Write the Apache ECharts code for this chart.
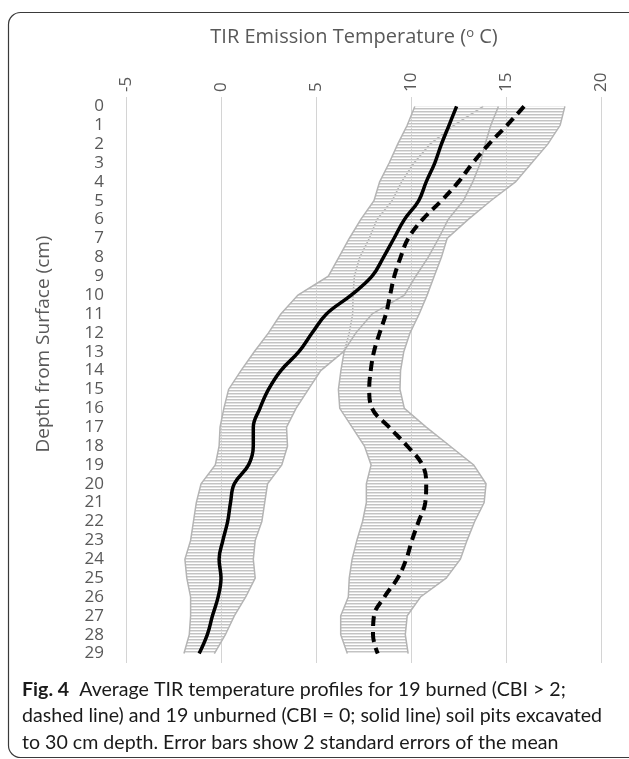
<!DOCTYPE html>
<html lang="en">
<head>
    <meta charset="UTF-8">
    <title>TIR temperature profiles</title>
    <style>
        html, body { margin: 0; padding: 0; background: #fff; }
        #chart { width: 629px; height: 759px; }
    </style>
</head>
<body>
<div id="chart"></div>
<script src="https://cdn.jsdelivr.net/npm/echarts@6/dist/echarts.min.js"></script>
<script>
    // depth categories (cm)
    var depths = ['0','1','2','3','4','5','6','7','8','9','10','11','12','13','14','15','16','17','18','19','20','21','22','23','24','25','26','27','28','29'];
    var tempTicks = [-5, 0, 5, 10, 15, 20];

    // unburned pits (solid line) : mean and 2 SE
    var unburnedMean = [12.4, 12.0, 11.6, 11.25, 10.8, 10.4, 9.65, 9.1, 8.55, 7.95, 6.85, 5.55, 4.8, 4.1, 3.15, 2.5, 2.05, 1.7, 1.7, 1.45, 0.7, 0.5, 0.35, 0.1, -0.1, 0.0, -0.15, -0.45, -0.72, -1.15];
    var unburnedErr = [2.2, 2.2, 2.3, 2.4, 2.45, 2.35, 2.3, 2.35, 2.35, 2.3, 2.8, 2.4, 2.3, 2.35, 2.1, 2.1, 1.9, 1.75, 1.8, 1.75, 1.75, 1.8, 1.8, 1.7, 1.8, 1.8, 1.45, 1.15, 0.95, 0.8];

    // burned pits (dashed line) : mean and 2 SE
    var burnedMean = [15.95, 15.05, 14.1, 13.25, 12.5, 11.6, 10.6, 9.85, 9.45, 9.12, 8.9, 8.68, 8.35, 8.05, 7.88, 7.8, 7.95, 8.85, 9.8, 10.6, 10.8, 10.75, 10.4, 10.05, 9.75, 9.3, 8.6, 8.05, 8.0, 8.25];
    var burnedErr = [2.15, 2.8, 3.1, 3.1, 3.0, 2.6, 2.4, 2.05, 2.15, 2.1, 1.95, 1.75, 1.6, 1.57, 1.57, 1.62, 1.7, 1.95, 2.25, 2.7, 3.15, 3.1, 2.95, 2.9, 2.85, 2.55, 1.9, 1.75, 1.7, 1.6];

    var gray = '#595959';
    var ink = '#1a1a1a';

    // striped fill that imitates the dense excel error bars
    function stripes() {
        var c = document.createElement('canvas');
        c.width = 4; c.height = 3;
        var ctx = c.getContext('2d');
        ctx.fillStyle = '#c3c3c3';
        ctx.fillRect(0, 0, 4, 1);
        ctx.fillStyle = '#e2e2e2';
        ctx.fillRect(0, 1, 4, 1);
        return c;
    }
    var stripeImg = stripes();

    function pairs(vals) {
        var out = [];
        for (var i = 0; i < vals.length; i++) out.push([vals[i], i]);
        return out;
    }

    // band drawn through the axes: upper edge down, lower edge back up
    function bandRender(mean, err) {
        return function (params, api) {
            var upper = [], lower = [];
            for (var i = 0; i < mean.length; i++) {
                upper.push(api.coord([mean[i] + err[i], i]));
                lower.push(api.coord([mean[i] - err[i], i]));
            }
            var poly = upper.concat(lower.slice().reverse());
            return {
                type: 'group',
                children: [
                    { type: 'polygon', shape: { points: poly }, style: { fill: { image: stripeImg, repeat: 'repeat' }, stroke: null } },
                    { type: 'polyline', shape: { points: upper }, style: { stroke: '#b4b4b4', lineWidth: 1.5, fill: null } },
                    { type: 'polyline', shape: { points: lower }, style: { stroke: '#b4b4b4', lineWidth: 1.5, fill: null } }
                ]
            };
        };
    }

    var chart = echarts.init(document.getElementById('chart'));
    var option = {
        animation: false,
        grid: { left: 126, right: 28, top: 97, bottom: 96 },
        xAxis: {
            type: 'value', position: 'top',
            min: tempTicks[0], max: tempTicks[tempTicks.length - 1], interval: 5,
            axisLine: { show: false }, axisTick: { show: false },
            axisLabel: { rotate: -90, margin: 5, color: gray, fontSize: 17, fontFamily: 'Open Sans' },
            splitLine: { lineStyle: { color: '#d4d4d4', width: 1 } }
        },
        yAxis: {
            type: 'category', inverse: true, data: depths,
            axisLine: { show: false }, axisTick: { show: false },
            axisLabel: { interval: 0, margin: 22, color: gray, fontSize: 17, fontFamily: 'Open Sans' },
            splitLine: { show: false }
        },
        series: [
            { type: 'custom', data: [[0, 0]], renderItem: bandRender(burnedMean, burnedErr), silent: true, z: 1 },
            { type: 'custom', data: [[0, 0]], renderItem: bandRender(unburnedMean, unburnedErr), silent: true, z: 1 },
            {
                name: 'burned', type: 'line', data: pairs(burnedMean), smooth: 0.4, showSymbol: false, z: 3,
                lineStyle: { color: '#000', width: 4, type: [10, 6] }
            },
            {
                name: 'unburned', type: 'line', data: pairs(unburnedMean), smooth: 0.4, showSymbol: false, z: 3,
                lineStyle: { color: '#000', width: 3.5 }
            }
        ],
        graphic: [
            { type: 'rect', shape: { x: 8.5, y: 12.5, width: 640, height: 745, r: 12 }, style: { fill: null, stroke: '#3a3a3a', lineWidth: 1.2 }, silent: true },
            {
                type: 'text', x: 354, y: 37,
                style: {
                    text: 'TIR Emission Temperature ({s|o} C)', fill: gray, font: '20px "Open Sans"',
                    align: 'center', verticalAlign: 'middle',
                    rich: { s: { fontSize: 13, fontFamily: 'Open Sans', fill: gray, verticalAlign: 'top', padding: [0, 0, 7, 0] } }
                }
            },
            {
                type: 'text', x: 44, y: 344, rotation: Math.PI / 2,
                style: { text: 'Depth from Surface (cm)', fill: gray, font: '19px "Open Sans"', align: 'center', verticalAlign: 'middle' }
            },
            {
                type: 'text', x: 22, y: 690,
                style: {
                    text: '{b|Fig. 4}  Average TIR temperature profiles for 19 burned (CBI > 2;', fill: ink,
                    font: '19.6px Lato', verticalAlign: 'middle',
                    rich: { b: { fontWeight: 'bold', fontSize: 19.6, fontFamily: 'Lato', fill: ink } }
                }
            },
            { type: 'text', x: 22, y: 716, style: { text: 'dashed line) and 19 unburned (CBI = 0; solid line) soil pits excavated', fill: ink, font: '19.6px Lato', verticalAlign: 'middle' } },
            { type: 'text', x: 22, y: 743, style: { text: 'to 30 cm depth. Error bars show 2 standard errors of the mean', fill: ink, font: '19.6px Lato', verticalAlign: 'middle' } }
        ]
    };
    chart.setOption(option);
</script>
</body>
</html>
